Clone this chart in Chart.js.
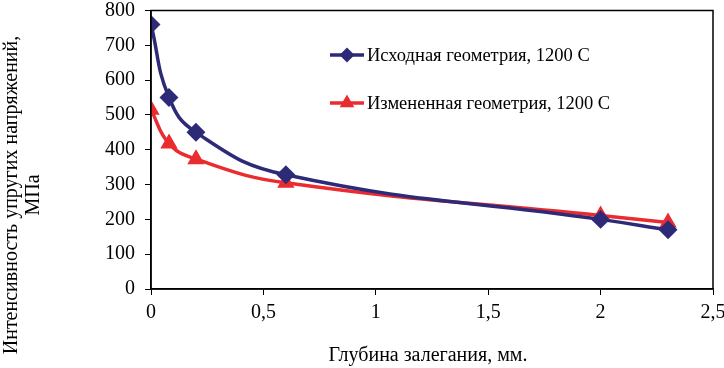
<!DOCTYPE html>
<html>
<head>
<meta charset="utf-8">
<script src="https://cdn.jsdelivr.net/npm/chart.js@4"></script>
<style>
  html, body { margin: 0; padding: 0; background: #fff; }
  #wrap { width: 724px; height: 368px; }
</style>
</head>
<body>
<div id="wrap"><canvas id="depthChart"></canvas></div>
<script>
const depth = [0, 0.08, 0.2, 0.6, 2, 2.3];
const initialGeom = [760, 550, 450, 328, 200, 170];
const modifiedGeom = [515, 418, 373, 305, 211, 191];
const seriesNames = ['Исходная геометрия, 1200 С', 'Измененная геометрия, 1200 С'];
const yTitleLines = ['Интенсивность упругих напряжений,', 'МПа'];
const xTitle = 'Глубина залегания, мм.';

const FONT = '"Liberation Serif", "Times New Roman", serif';
const BLUE = '#2d2a78';
const RED = '#ea2b2f';

function toPoints(ys) {
  return depth.map((x, i) => ({ x: x, y: ys[i] }));
}

// frame, legend and axis titles
const decor = {
  id: 'decor',
  afterDraw(chart) {
    const { ctx, chartArea: a } = chart;
    ctx.save();
    ctx.strokeStyle = '#000';
    ctx.lineWidth = 1.5;
    ctx.strokeRect(a.left, a.top, a.right - a.left, a.bottom - a.top);

    // legend
    ctx.font = '18.5px ' + FONT;
    ctx.textBaseline = 'middle';
    ctx.textAlign = 'left';
    const rows = [55, 103];
    chart.data.datasets.forEach((ds, i) => {
      const y = rows[i];
      ctx.strokeStyle = ds.borderColor;
      ctx.lineWidth = 3.5;
      ctx.beginPath();
      ctx.moveTo(330, y);
      ctx.lineTo(364, y);
      ctx.stroke();
      ctx.fillStyle = ds.borderColor;
      Chart.helpers.drawPoint(ctx, { pointStyle: ds.pointStyle, radius: 5, rotation: 0, borderWidth: 1 }, 347, y);
      ctx.fill();
      ctx.fillStyle = '#000';
      ctx.fillText(ds.label, 367, y + 1);
    });

    // axis titles
    ctx.textAlign = 'center';
    ctx.font = '20px ' + FONT;
    ctx.fillText(xTitle, 428, 356);
    ctx.translate(0, 195);
    ctx.rotate(-Math.PI / 2);
    ctx.fillText(yTitleLines[0], 0, 12);
    ctx.fillText(yTitleLines[1], 0, 34);
    ctx.restore();
  }
};

new Chart(document.getElementById('depthChart'), {
  type: 'line',
  data: {
    datasets: [
      {
        label: seriesNames[0],
        data: toPoints(initialGeom),
        borderColor: BLUE,
        backgroundColor: BLUE,
        borderWidth: 3.5,
        pointStyle: 'rectRot',
        pointRadius: 7,
        tension: 0.45,
        fill: false
      },
      {
        label: seriesNames[1],
        data: toPoints(modifiedGeom),
        borderColor: RED,
        backgroundColor: RED,
        borderWidth: 3.5,
        pointStyle: 'triangle',
        pointRadius: 6.5,
        tension: 0.45,
        fill: false
      }
    ]
  },
  options: {
    responsive: true,
    maintainAspectRatio: false,
    animation: false,
    layout: { padding: { top: 7, right: 11, left: 0, bottom: 0 } },
    scales: {
      x: {
        type: 'linear',
        min: 0,
        max: 2.5,
        ticks: {
          stepSize: 0.5,
          color: '#000',
          padding: 6,
          font: { family: FONT, size: 20 },
          callback: v => String(v).replace('.', ',')
        },
        grid: { drawOnChartArea: false, tickLength: 6, color: '#000' },
        border: { color: '#000', width: 1.5 },
        afterFit: s => { s.height = 79; s.paddingLeft = 0; s.paddingRight = 0; }
      },
      y: {
        min: 0,
        max: 800,
        ticks: {
          stepSize: 100,
          color: '#000',
          padding: 10,
          font: { family: FONT, size: 20 }
        },
        grid: { drawOnChartArea: false, tickLength: 6, color: '#000' },
        border: { color: '#000', width: 1.5 },
        afterFit: s => { s.width = 151; s.paddingTop = 0; s.paddingBottom = 0; }
      }
    },
    plugins: {
      legend: { display: false },
      tooltip: { enabled: false }
    }
  },
  plugins: [decor]
});
</script>
</body>
</html>
